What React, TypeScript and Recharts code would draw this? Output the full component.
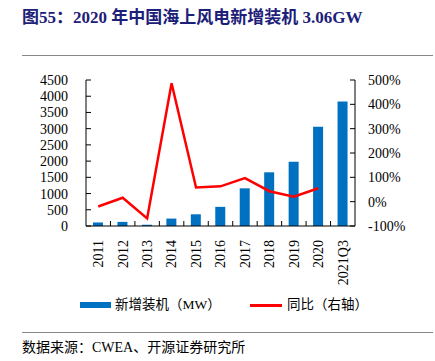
import React from "react";
import { Bar, ComposedChart, Line, XAxis, YAxis } from "recharts";

const categories = ["2011", "2012", "2013", "2014", "2015", "2016", "2017", "2018", "2019", "2020", "2021Q3"];
const newInstalled = [109, 127, 39, 229, 361, 590, 1161, 1655, 1980, 3060, 3840];
const yoy: (number | null)[] = [-20, 16, -69, 487, 58, 63, 97, 43, 20, 55, null];

const leftTicks = [0, 500, 1000, 1500, 2000, 2500, 3000, 3500, 4000, 4500];
const rightTicks = [-100, 0, 100, 200, 300, 400, 500];

const FONT = "'Liberation Serif', 'Times New Roman', 'Noto Sans CJK SC', serif";

const data = categories.map((c, i) => ({ name: c, mw: newInstalled[i], yoy: yoy[i] }));

function XTick(props: any) {
  const { x, y, payload, index } = props;
  const off = payload?.offset ?? 0;
  return (
    <g>
      {index > 0 && (
        <line x1={x - off} x2={x - off} y1={y - 14} y2={y - 19} stroke="#000" />
      )}
      <text
        x={x}
        y={y}
        transform={`rotate(-90, ${x}, ${y})`}
        textAnchor="end"
        dy="0.35em"
        fontSize={14}
        fontFamily={FONT}
        fill="#000"
      >
        {payload.value}
      </text>
    </g>
  );
}

export default function App() {
  return (
    <div
      style={{
        position: "absolute",
        left: 0,
        top: 0,
        width: 435,
        height: 361,
        background: "#fff",
        fontFamily: FONT,
        overflow: "hidden",
      }}
    >
      <div
        style={{
          position: "absolute",
          left: 22,
          top: 7,
          fontSize: 17,
          fontWeight: "bold",
          color: "#1c2078",
          whiteSpace: "nowrap",
          lineHeight: "22px",
        }}
      >
        图55：2020 年中国海上风电新增装机 3.06GW
      </div>
      <div style={{ position: "absolute", left: 22, top: 55, width: 411, height: 1, background: "#888" }} />

      <div style={{ position: "absolute", left: 0, top: 0 }}>
        <ComposedChart
          width={435}
          height={290}
          data={data}
          margin={{ top: 80, right: 0, bottom: 0, left: 0 }}
        >
          <XAxis
            dataKey="name"
            xAxisId={0}
            height={64}
            tickSize={0}
            tickMargin={14}
            tickLine={false}
            axisLine={{ stroke: "#000" }}
            interval={0}
            tick={<XTick />}
          />
          <YAxis
            yAxisId="left"
            orientation="left"
            width={86}
            domain={[0, 4500]}
            ticks={leftTicks}
            interval={0}
            tickSize={-5}
            tickMargin={23}
            axisLine={{ stroke: "#000" }}
            tickLine={{ stroke: "#000" }}
            tick={{ fontSize: 14, fill: "#000", fontFamily: FONT }}
          />
          <YAxis
            yAxisId="right"
            orientation="right"
            width={80}
            domain={[-100, 500]}
            ticks={rightTicks}
            interval={0}
            tickSize={-5}
            tickMargin={18}
            tickFormatter={(v: number) => `${v}%`}
            axisLine={{ stroke: "#000" }}
            tickLine={{ stroke: "#000" }}
            tick={{ fontSize: 14, fill: "#000", fontFamily: FONT }}
          />
          <Bar yAxisId="left" dataKey="mw" fill="#0070C0" barSize={10} isAnimationActive={false} />
          <Line
            yAxisId="right"
            dataKey="yoy"
            stroke="#FF0000"
            strokeWidth={2.5}
            dot={false}
            activeDot={false}
            type="linear"
            isAnimationActive={false}
          />
        </ComposedChart>
      </div>

      <div style={{ position: "absolute", left: 80, top: 302, width: 31, height: 6, background: "#0070C0" }} />
      <div
        style={{
          position: "absolute",
          left: 115,
          top: 296,
          fontSize: 13.5,
          lineHeight: "18px",
          whiteSpace: "nowrap",
          color: "#000",
        }}
      >
        新增装机（MW）
      </div>
      <div style={{ position: "absolute", left: 250, top: 304, width: 32, height: 2.5, background: "#FF0000" }} />
      <div
        style={{
          position: "absolute",
          left: 287,
          top: 296,
          fontSize: 13.5,
          lineHeight: "18px",
          whiteSpace: "nowrap",
          color: "#000",
        }}
      >
        同比（右轴）
      </div>

      <div style={{ position: "absolute", left: 22, top: 332, width: 411, height: 1, background: "#888" }} />
      <div
        style={{
          position: "absolute",
          left: 22,
          top: 339,
          fontSize: 14,
          lineHeight: "18px",
          whiteSpace: "nowrap",
          color: "#000",
        }}
      >
        数据来源：CWEA、开源证券研究所
      </div>
    </div>
  );
}
